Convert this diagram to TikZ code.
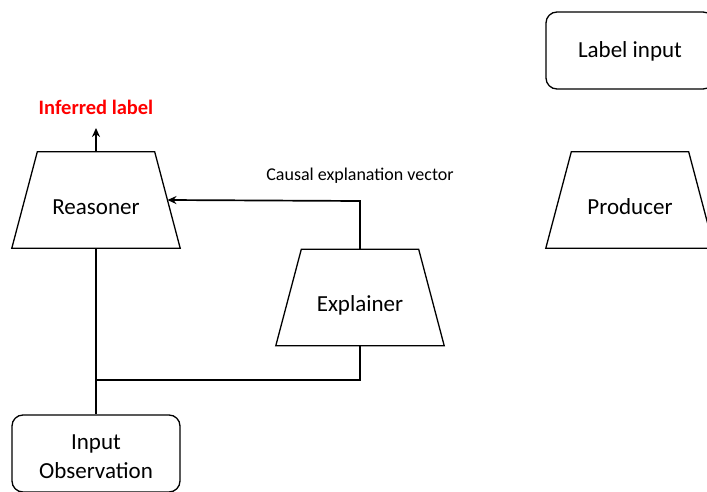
\documentclass[tikz,border=0pt]{standalone}
\usepackage{fontspec}
\setmainfont{Carlito}
\usetikzlibrary{arrows.meta}
\begin{document}
\begin{tikzpicture}[x=1pt,y=-1pt,
  trapbox/.style={rectangle,minimum width=168pt,minimum height=96pt,inner sep=0pt,
    text height=32pt,text depth=4pt,font=\fontsize{23}{27}\selectfont},
  trapline/.style={draw,line width=1.3pt,line join=miter},
  rbox/.style={draw,line width=1.3pt,rounded corners=11pt,minimum width=168pt,minimum height=77pt,
    inner sep=0pt,align=center,font=\fontsize{23}{27}\selectfont},
  conn/.style={line width=1.7pt},
  arr/.style={conn,-{Stealth[length=9pt,width=8pt]}}]
\useasboundingbox (0,0) rectangle (707,492);
\clip (0,0) rectangle (707,492);
\node[trapbox] (reas) at (96,200) {Reasoner};
\node[trapbox] (expl) at (360,297.5) {Explainer};
\node[trapbox] (prod) at (630,200) {Producer};
\foreach \n in {reas,expl,prod}
  \draw[trapline] (\n.south west) -- (\n.south east) -- ([xshift=-25.5pt]\n.north east)
    -- ([xshift=25.5pt]\n.north west) -- cycle;
\node[rbox,text height=19pt,text depth=4pt] (lab) at (630,50.5) {Label input};
\node[rbox] (obs) at (96,453.5) {\rule{0pt}{22pt}Input\\[2pt]Observation};
\node[font=\fontsize{20.5}{24}\selectfont\bfseries,text=red] (inf) at (96,107) {Inferred label};
\node[font=\fontsize{18}{22}\selectfont] (cev) at (360,176) {Causal explanation vector};
\coordinate (top) at (96,128);
\coordinate (bend) at (360,201);
\coordinate (join) at (96,380);
\coordinate (low) at (360,380);
\draw[arr] (reas.north) -- (top);
\draw[arr] (expl.north) -- (bend) -- ([xshift=-12.75pt]reas.east);
\draw[conn] (expl.south) -- (low) -- (join);
\draw[conn] (reas.south) -- (obs.north);
\end{tikzpicture}
\end{document}
